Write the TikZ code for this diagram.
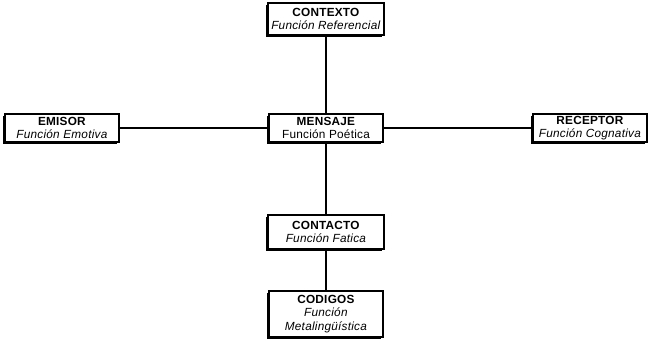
\documentclass[tikz,border=0pt]{standalone}
\usepackage{fontspec}
\setmainfont{Liberation Sans}[LetterSpace=2]
\usetikzlibrary{shadows}
\begin{document}
\begin{tikzpicture}[x=1pt,y=-1pt,
  box/.style 2 args={draw=black,line width=1.3pt,fill=white,minimum width=#1,minimum height=#2,
    inner sep=0pt,align=center,font=\fontsize{11.8}{13.5}\selectfont,
    drop shadow={shadow xshift=-2pt,shadow yshift=-2pt,fill=black,opacity=1}},
  conn/.style={line width=1.1pt,draw=black}]
\useasboundingbox (0,0) rectangle (655,340);
\node[box={116pt}{32pt}] (contexto) at (326,19) {\textbf{CONTEXTO}\\\textit{Función Referencial}};
\node[box={114pt}{28pt}] (emisor) at (62,128) {\textbf{EMISOR}\\\textit{Función Emotiva}};
\node[box={114pt}{28pt}] (mensaje) at (326,128) {\textbf{MENSAJE}\\Función Poética};
\node[box={114pt}{28pt}] (receptor) at (590,128) {\textbf{RECEPTOR}\\\textit{Función Cognativa}};
\node[box={116pt}{34pt}] (contacto) at (326,232) {\textbf{CONTACTO}\\\textit{Función Fatica}};
\node[box={114pt}{46pt}] (codigos) at (326,314) {\textbf{CODIGOS}\\\textit{Función}\\\textit{Metalingüística}};
\draw[conn] (contexto.south) -- (mensaje.north);
\draw[conn] (emisor.east) -- (mensaje.west);
\draw[conn] (mensaje.east) -- (receptor.west);
\draw[conn] (mensaje.south) -- (contacto.north);
\draw[conn] (contacto.south) -- (codigos.north);
\end{tikzpicture}
\end{document}
